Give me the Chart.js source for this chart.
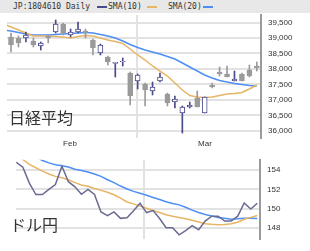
<!DOCTYPE html>
<html><head><meta charset="utf-8">
<script src="https://cdn.jsdelivr.net/npm/chart.js@4/dist/chart.umd.min.js"></script>
<style>
html,body{margin:0;padding:0;background:#fff;width:310px;height:251px;overflow:hidden;}
#hdr{position:absolute;left:0;top:0;width:310px;height:13px;background:#e8e8e8;}
.t{position:absolute;font-family:"DejaVu Sans Mono",monospace;font-size:8px;line-height:13px;color:#333;top:0;white-space:pre}
.sw{position:absolute;top:6px;height:2px;width:10px}
canvas{position:absolute;left:0}
.big{position:absolute;font-family:"Noto Sans CJK JP",sans-serif;font-size:16px;line-height:16px;color:#333;white-space:pre}
</style></head>
<body>
<div id="hdr"></div>
<div class="t" style="left:13px">JP:1804610 Daily</div>
<div class="sw" style="left:97px;background:#4a4a8c"></div>
<div class="t" style="left:108px">SMA(10)</div>
<div class="sw" style="left:147px;background:#e6b566"></div>
<div class="t" style="left:168px">SMA(20)</div>
<div class="sw" style="left:203px;background:#4d8ff5"></div>
<canvas id="c1" width="310" height="150" style="top:0"></canvas>
<canvas id="c2" width="310" height="103" style="top:148px"></canvas>
<div class="big" style="left:9px;top:109px">日経平均</div>
<div class="big" style="left:10px;top:216px">ドル円</div>
<script>
// ---- Nikkei daily candles (index 0 = prior day, off-screen) ----
const opens  = [null,39032,39000,39000,38903,38742,39064,39194,39452,39097,39194,39226,38935,38516,38387,38180,38240,37871,37613,37516,37290,37613,37194,36935,36581,36774,37064,36581,37484,37903,37839,37613,37839,37968,38097];
const highs  = [null,39161,39064,39194,39000,38871,39097,39581,39484,39290,39516,39290,38968,38806,38419,38215,38355,37903,37839,37548,37581,37871,37226,37129,36806,36935,37290,37097,37548,38064,38097,37935,37871,38129,38226];
const lows   = [null,38548,38710,38871,38710,38613,38839,39161,39097,39032,39161,39000,38452,38452,38129,37742,38097,36839,37355,36806,37161,37581,36806,36742,35935,36742,36774,36581,37387,37774,37742,37613,37613,37742,37935];
const closes = [null,38774,38839,39097,38774,38839,39000,39452,39161,39194,39290,39161,38677,38774,38226,38215,38258,37129,37806,37323,37419,37742,36903,37032,36774,36839,36774,37097,37419,37839,37742,37677,37613,37774,38032];
const nikkeiSma10 = [39452,39355,39258,39161,39064,39064,39064,39048,39032,39000,39048,39081,39064,39000,38935,38887,38823,38645,38452,38290,38097,37935,37774,37548,37323,37145,37097,37081,37097,37145,37194,37210,37242,37355,37484];
const nikkeiSma20 = [39258,39226,39177,39129,39097,39097,39097,39113,39129,39145,39161,39177,39161,39113,39064,39000,38903,38790,38694,38613,38548,38484,38403,38323,38194,38064,37935,37806,37710,37629,37581,37532,37500,37468,37452];
const nikkeiTicks = [36000,36500,37000,37500,38000,38500,39000,39500];
const monthLabels = ['Feb','','Mar'];
const monthTickPos = [8.92,17.91,27.04];

// ---- USD/JPY ----
const usdjpy = [154.8,154.3,152.66,151.47,151.47,152.0,152.5,154.4,152.8,152.27,151.5,152.0,151.47,149.67,149.28,149.67,149.0,149.07,149.8,150.57,149.6,149.8,148.99,148.03,148.03,147.29,147.73,148.24,147.82,148.72,149.23,149.23,148.72,148.72,149.23,150.6,149.97,150.57];
const usdjpySma10 = [155.5,155.1,154.6,154.25,153.9,153.6,153.35,153.2,153.0,152.7,152.45,152.33,152.1,151.9,151.7,151.45,151.1,150.7,150.5,150.27,150.05,149.82,149.6,149.38,149.22,149.08,148.95,148.8,148.62,148.45,148.38,148.33,148.36,148.45,148.6,148.9,149.1,149.29];
const usdjpySma20 = [null,null,null,155.4,155.0,154.75,154.55,154.45,154.33,154.1,153.95,153.8,153.6,153.35,153.0,152.7,152.35,152.05,151.8,151.6,151.4,151.17,150.95,150.72,150.55,150.4,150.15,149.85,149.6,149.4,149.25,149.1,149.0,148.92,148.95,149.0,149.0,148.99];
const usdjpyTicks = [148,150,152,154];
const usdjpyGridPos = [19.63];

const NAVY='#4a4a8c', GRAY='#9a9a9a', ORANGE='#e6b566', BLUE='#4d8ff5', PRICE='#6a6a92', GRID='#e2e2e2', AXIS='#9a9a9a', TXT='#333';
const tickFont = {family:'"Liberation Sans", Arial, sans-serif', size:8};

const wickData=[], bodyData=[], wickCol=[], bodyFill=[], bodyBorder=[];
for (let i=0;i<opens.length;i++){
  if (opens[i]==null) continue;
  const up = closes[i]>=opens[i];
  wickData.push({x:i,y:[lows[i],highs[i]]}); wickCol.push(up?NAVY:GRAY);
  bodyData.push({x:i,y:[Math.min(opens[i],closes[i]),Math.max(opens[i],closes[i])]});
  bodyFill.push(up?'#ffffff':GRAY); bodyBorder.push(up?NAVY:GRAY);
}
const pts = arr => arr.map((v,i)=>({x:i,y:v})).filter(p=>p.y!=null);

new Chart(document.getElementById('c1'), {
  type:'bar',
  data:{datasets:[
    {type:'bar', data:bodyData, backgroundColor:bodyFill, borderColor:bodyBorder, borderWidth:1, borderSkipped:false, barThickness:5, grouped:false, order:0},
    {type:'bar', data:wickData, backgroundColor:wickCol, borderWidth:0, barThickness:1, grouped:false, order:1},
    {type:'line', data:pts(nikkeiSma10), borderColor:ORANGE, borderWidth:1.5, pointRadius:0, tension:0, order:2},
    {type:'line', data:pts(nikkeiSma20), borderColor:BLUE, borderWidth:1.5, pointRadius:0, tension:0, order:3}
  ]},
  options:{
    responsive:false, animation:false, events:[],
    layout:{padding:{left:7,top:15,right:1,bottom:0}},
    plugins:{legend:{display:false}, tooltip:{enabled:false}},
    scales:{
      x:{type:'linear', min:0.463, max:34.56, offset:false,
        grid:{offset:false, drawTicks:false, lineWidth:2, color:ctx=>ctx.index===1?GRID:'rgba(0,0,0,0)'},
        border:{display:false},
        ticks:{autoSkip:false, maxRotation:0, padding:1, font:tickFont, color:TXT, callback:(v,i)=>monthLabels[i]},
        afterBuildTicks:s=>{s.ticks=monthTickPos.map(v=>({value:v}));},
        afterFit:s=>{s.height=12;}
      },
      y:{type:'linear', position:'right', min:35774, max:39742,
        grid:{color:GRID, lineWidth:2, drawTicks:false},
        border:{display:true, color:AXIS, width:2},
        ticks:{padding:7, font:tickFont, color:TXT, callback:v=>v.toLocaleString('en-US')},
        afterBuildTicks:s=>{s.ticks=nikkeiTicks.map(v=>({value:v}));},
        afterFit:s=>{s.width=48;}
      }
    }
  }
});

new Chart(document.getElementById('c2'), {
  type:'line',
  data:{datasets:[
    {data:pts(usdjpy), borderColor:PRICE, borderWidth:1.5, pointRadius:0, tension:0, order:0},
    {data:pts(usdjpySma10), borderColor:ORANGE, borderWidth:1.5, pointRadius:0, tension:0, order:1},
    {data:pts(usdjpySma20), borderColor:BLUE, borderWidth:1.5, pointRadius:0, tension:0, order:2}
  ]},
  options:{
    responsive:false, animation:false, events:[],
    layout:{padding:{left:16,top:5,right:1,bottom:6}},
    plugins:{legend:{display:false}, tooltip:{enabled:false}},
    scales:{
      x:{type:'linear', min:-0.05, max:37.42, display:true,
        grid:{drawTicks:false, lineWidth:2, color:GRID},
        border:{display:false},
        ticks:{display:false},
        afterBuildTicks:s=>{s.ticks=usdjpyGridPos.map(v=>({value:v}));},
        afterFit:s=>{s.height=0;}
      },
      y:{type:'linear', position:'right', min:146.84, max:155.07,
        grid:{color:GRID, lineWidth:2, drawTicks:false},
        border:{display:true, color:AXIS, width:2},
        ticks:{padding:7, font:tickFont, color:TXT, callback:v=>String(v)},
        afterBuildTicks:s=>{s.ticks=usdjpyTicks.map(v=>({value:v}));},
        afterFit:s=>{s.width=49;}
      }
    }
  }
});
</script>
</body></html>
